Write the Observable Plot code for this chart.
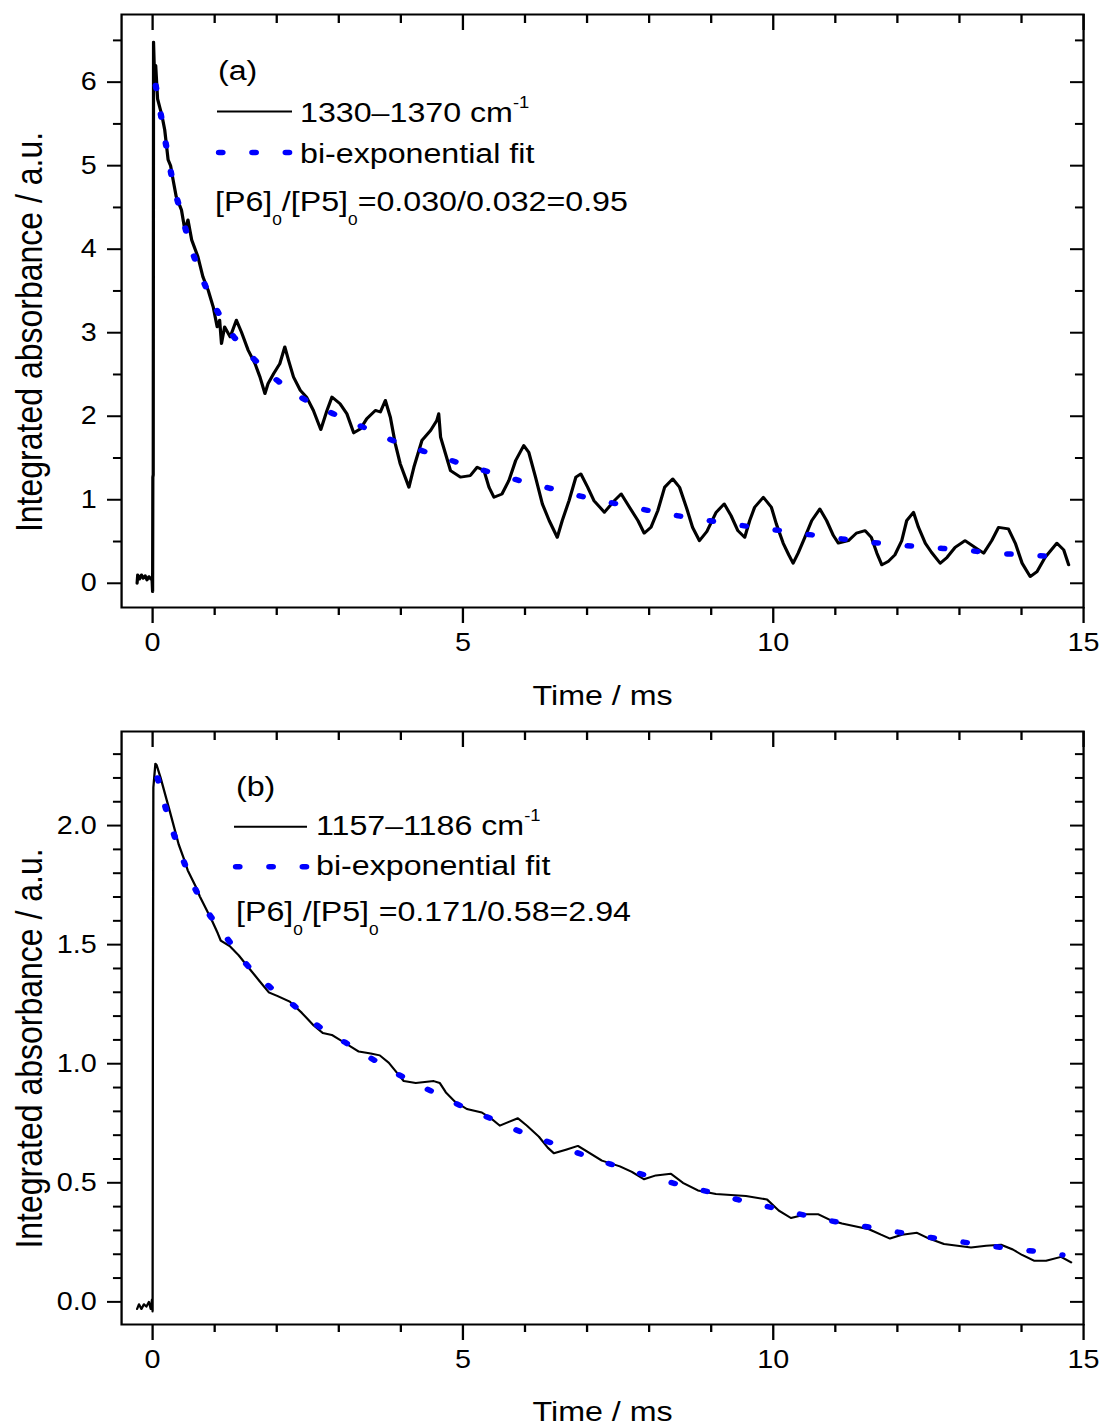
<!DOCTYPE html>
<html><head><meta charset="utf-8">
<script src="https://cdn.jsdelivr.net/npm/d3@7"></script>
<script src="https://cdn.jsdelivr.net/npm/@observablehq/plot@0.6"></script>
<style>
html,body{margin:0;padding:0;background:#fff;}
#chart{width:1102px;}
#chart svg{display:block;}
</style></head><body><div id="chart"></div>
<script>
// ---------- data ----------
const xMajorTicks = [0, 5, 10, 15];
const xMinorTicks = [1, 2, 3, 4, 6, 7, 8, 9, 11, 12, 13, 14];
const yMajorTicksA = [0, 1, 2, 3, 4, 5, 6];
const yMinorTicksA = [0.5, 1.5, 2.5, 3.5, 4.5, 5.5, 6.5];
const yMajorTicksB = [0, 0.5, 1, 1.5, 2];
const yMinorTicksB = [0.1,0.2,0.3,0.4,0.6,0.7,0.8,0.9,1.1,1.2,1.3,1.4,1.6,1.7,1.8,1.9,2.1,2.2,2.3];

// panel (a): 1330–1370 cm-1 trace [time ms, absorbance]
const traceA = [
  [-0.25,0.0],[-0.24,0.1],[-0.21,0.05],[-0.18,0.1],[-0.15,0.06],[-0.12,0.09],[-0.09,0.04],[-0.06,0.08],[-0.03,0.05],[-0.01,0.07],
  [0.0,-0.1],[0.004,1.27],[0.01,1.3],[0.015,6.48],[0.03,6.1],[0.05,6.2],[0.08,5.8],[0.115,5.7],[0.15,5.6],[0.195,5.43],
  [0.25,5.07],[0.29,5.0],[0.33,4.83],[0.38,4.63],[0.465,4.47],[0.52,4.23],[0.57,4.35],[0.63,4.11],[0.73,3.91],[0.81,3.67],
  [0.895,3.51],[0.976,3.31],[1.04,3.07],[1.08,3.15],[1.11,2.87],[1.16,3.07],[1.25,2.95],[1.35,3.15],[1.43,3.01],[1.54,2.79],
  [1.65,2.63],[1.73,2.47],[1.81,2.27],[1.86,2.39],[1.95,2.51],[2.05,2.63],[2.13,2.83],[2.19,2.67],[2.27,2.47],[2.38,2.31],
  [2.48,2.23],[2.59,2.07],[2.71,1.84],[2.81,2.07],[2.89,2.23],[3.02,2.15],[3.13,2.03],[3.24,1.80],[3.35,1.85],[3.45,1.97],
  [3.59,2.07],[3.67,2.05],[3.75,2.19],[3.83,1.99],[3.91,1.67],[3.99,1.43],[4.07,1.27],[4.13,1.15],[4.21,1.39],[4.34,1.71],
  [4.48,1.83],[4.58,1.95],[4.61,2.03],[4.64,1.75],[4.72,1.55],[4.80,1.35],[4.96,1.27],[5.12,1.29],[5.23,1.39],[5.34,1.35],
  [5.42,1.15],[5.50,1.03],[5.63,1.07],[5.74,1.23],[5.85,1.47],[5.98,1.65],[6.06,1.57],[6.17,1.27],[6.28,0.95],[6.39,0.75],
  [6.52,0.55],[6.60,0.75],[6.71,0.99],[6.82,1.27],[6.90,1.31],[7.01,1.15],[7.11,0.99],[7.28,0.85],[7.44,0.99],[7.55,1.07],
  [7.65,0.95],[7.82,0.75],[7.92,0.60],[8.03,0.67],[8.14,0.87],[8.25,1.15],[8.38,1.25],[8.49,1.15],[8.60,0.91],[8.70,0.67],
  [8.81,0.51],[8.93,0.62],[9.08,0.85],[9.21,0.95],[9.32,0.81],[9.43,0.63],[9.54,0.55],[9.62,0.75],[9.70,0.91],[9.84,1.03],
  [9.97,0.91],[10.05,0.71],[10.16,0.48],[10.25,0.34],[10.32,0.24],[10.40,0.36],[10.51,0.55],[10.62,0.75],[10.75,0.89],[10.86,0.75],
  [10.97,0.57],[11.05,0.48],[11.21,0.51],[11.34,0.60],[11.48,0.63],[11.58,0.55],[11.67,0.36],[11.75,0.22],[11.85,0.26],[11.96,0.34],
  [12.07,0.51],[12.15,0.75],[12.26,0.85],[12.34,0.67],[12.45,0.48],[12.55,0.37],[12.69,0.24],[12.80,0.31],[12.93,0.43],[13.09,0.51],
  [13.25,0.43],[13.39,0.36],[13.52,0.51],[13.63,0.67],[13.79,0.65],[13.90,0.48],[14.01,0.24],[14.14,0.08],[14.25,0.14],[14.38,0.31],
  [14.57,0.48],[14.68,0.40],[14.76,0.22]
];
// panel (a): bi-exponential fit
const fitA = [
  [0.05,5.96],[0.14,5.58],[0.23,5.19],[0.33,4.79],[0.465,4.42],[0.61,4.04],[0.79,3.67],[1.0,3.32],[1.27,2.99],[1.6,2.71],
  [1.99,2.44],[2.45,2.20],[2.91,2.03],[3.39,1.87],[3.87,1.71],[4.37,1.58],[4.90,1.45],[5.39,1.34],[5.91,1.23],[6.44,1.13],
  [6.97,1.03],[7.48,0.95],[8.0,0.87],[8.53,0.80],[9.06,0.74],[9.6,0.68],[10.13,0.63],[10.91,0.55],[11.45,0.50],[11.98,0.46],
  [12.5,0.43],[13.04,0.40],[13.57,0.36],[14.1,0.34],[14.64,0.31]
];

// panel (b): 1157–1186 cm-1 trace
const traceB = [
  [-0.25,-0.03],[-0.22,-0.01],[-0.18,-0.03],[-0.14,-0.01],[-0.1,-0.02],[-0.06,0.0],[-0.03,-0.03],[-0.01,0.01],[0.0,-0.04],[0.005,1.27],
  [0.012,2.16],[0.045,2.26],[0.063,2.255],[0.13,2.20],[0.227,2.107],[0.276,2.061],[0.372,1.968],[0.42,1.921],[0.517,1.851],[0.566,1.812],
  [0.711,1.735],[0.76,1.703],[0.953,1.603],[1.049,1.548],[1.098,1.517],[1.243,1.494],[1.388,1.455],[1.533,1.408],[1.726,1.346],[1.871,1.30],
  [2.016,1.284],[2.21,1.261],[2.403,1.214],[2.597,1.16],[2.742,1.129],[2.887,1.121],[3.08,1.09],[3.322,1.051],[3.515,1.043],[3.66,1.035],
  [3.805,1.004],[3.95,0.958],[4.047,0.927],[4.24,0.919],[4.53,0.927],[4.627,0.919],[4.724,0.880],[4.87,0.841],[5.063,0.810],[5.304,0.795],
  [5.45,0.771],[5.594,0.740],[5.74,0.756],[5.885,0.771],[6.03,0.740],[6.223,0.694],[6.368,0.647],[6.465,0.624],[6.659,0.639],[6.852,0.655],
  [6.997,0.632],[7.239,0.593],[7.529,0.569],[7.722,0.546],[7.916,0.515],[8.109,0.531],[8.351,0.538],[8.544,0.500],[8.786,0.468],[9.076,0.453],
  [9.56,0.445],[9.9,0.43],[10.09,0.383],[10.285,0.352],[10.53,0.368],[10.72,0.368],[10.914,0.344],[11.107,0.329],[11.542,0.305],[11.736,0.282],
  [11.881,0.266],[12.074,0.282],[12.316,0.290],[12.51,0.266],[12.751,0.243],[13.186,0.228],[13.43,0.236],[13.67,0.240],[13.86,0.22],[14.009,0.197],
  [14.2,0.173],[14.396,0.173],[14.637,0.189],[14.80,0.166]
];
const fitB = [
  [0.08,2.20],[0.26,2.03],[0.43,1.90],[0.62,1.773],[0.86,1.649],[1.15,1.545],[1.48,1.427],[1.82,1.338],[2.26,1.248],[2.66,1.160],
  [3.13,1.085],[3.59,1.012],[4.05,0.942],[4.53,0.880],[5.01,0.818],[5.50,0.764],[5.98,0.709],[6.47,0.663],[6.98,0.613],[7.48,0.570],
  [7.99,0.528],[8.53,0.489],[9.05,0.456],[9.54,0.422],[10.06,0.391],[10.91,0.341],[11.45,0.318],[12.0,0.293],[12.51,0.271],[13.06,0.251],
  [13.57,0.232],[14.13,0.215],[14.66,0.197]
];

// ---------- layout ----------
const S = 1.15;              // horizontal stretch of the original figure
const W = 1102 / S;
const FONT = "'Liberation Sans', Arial, Helvetica, sans-serif";
const mL = 121 / S, mR = 19 / S;

function panel(cfg) {
  const H = cfg.height, mT = cfg.marginTop, mB = cfg.marginBottom;
  const innerW = W - mL - mR, innerH = H - mT - mB;
  const svgEl = Plot.plot({
    width: W, height: H,
    marginLeft: mL, marginRight: mR, marginTop: mT, marginBottom: mB,
    style: {fontFamily: FONT, fontSize: "25px", color: "black", background: "white"},
    x: {domain: [-0.5, 15]},
    y: {domain: cfg.yDomain},
    marks: [
      Plot.axisX({ticks: xMajorTicks, tickSize: 16, tickPadding: 10, fontSize: 25, strokeWidth: 2, label: null, tickFormat: d3.format("d")}),
      Plot.axisX({ticks: xMinorTicks, tickSize: 8, strokeWidth: 2, label: null, tickFormat: () => ""}),
      Plot.axisY({ticks: cfg.yMajor, tickSize: 12.2, tickPadding: 9.5, fontSize: 25, strokeWidth: 2, label: null, tickFormat: cfg.yFormat}),
      Plot.axisY({ticks: cfg.yMinor, tickSize: 7, strokeWidth: 2, label: null, tickFormat: () => ""}),
      Plot.tickX(xMajorTicks, {x: d => d, insetBottom: innerH - 16, stroke: "black", strokeWidth: 2}),
      Plot.tickX(xMinorTicks, {x: d => d, insetBottom: innerH - 9, stroke: "black", strokeWidth: 2}),
      Plot.tickY(cfg.yMajor, {y: d => d, insetLeft: innerW - 11.3, stroke: "black", strokeWidth: 2}),
      Plot.tickY(cfg.yMinor, {y: d => d, insetLeft: innerW - 7, stroke: "black", strokeWidth: 2}),
      Plot.frame({stroke: "black", strokeWidth: 2}),
      Plot.line(cfg.trace, {x: d => d[0], y: d => d[1], stroke: "black", strokeWidth: cfg.lineWidth}),
      Plot.line(cfg.fit, {x: d => d[0], y: d => d[1], stroke: "#0000ff", strokeWidth: 5.5, strokeDasharray: "3 26", strokeLinecap: "round", curve: "monotone-x"}),
      Plot.text(["Time / ms"], {text: d => d, frameAnchor: "bottom", textAnchor: "middle", lineAnchor: "bottom", dy: cfg.xLabelOffset, fontSize: 28}),
      Plot.text(["Integrated absorbance / a.u."], {text: d => d, frameAnchor: "left", textAnchor: "middle", rotate: -90, lineAnchor: "top", dx: -92, dy: cfg.yLabelShift, fontSize: 32})
    ]
  });
  svgEl.setAttribute("preserveAspectRatio", "none");
  svgEl.setAttribute("width", 1102);
  svgEl.style.width = "1102px";
  svgEl.style.height = H + "px";
  svgEl.style.maxWidth = "none";

  // legend (drawn in the plot's own coordinate system)
  const L = cfg.legend;
  const g = d3.select(svgEl).append("g").attr("font-family", FONT).attr("font-size", 28)
    .attr("fill", "black").attr("text-anchor", "start");
  g.append("text").attr("x", L.tagX).attr("y", L.tagY).text(cfg.tag);
  g.append("line").attr("x1", L.lineX1).attr("x2", L.lineX2).attr("y1", L.line1Y).attr("y2", L.line1Y)
    .attr("stroke", "black").attr("stroke-width", 2);
  const t1 = g.append("text").attr("x", L.textX).attr("y", L.text1Y);
  t1.append("tspan").text(cfg.band + " cm");
  t1.append("tspan").attr("font-size", 16).attr("dy", -14).text("-1");
  g.append("line").attr("x1", L.dotX1).attr("x2", L.lineX2).attr("y1", L.line2Y).attr("y2", L.line2Y)
    .attr("stroke", "#0000ff").attr("stroke-width", 5.5).attr("stroke-dasharray", "3 26").attr("stroke-linecap", "round");
  g.append("text").attr("x", L.textX).attr("y", L.text2Y).text("bi-exponential fit");
  const t3 = g.append("text").attr("x", L.ratioX).attr("y", L.text3Y);
  t3.append("tspan").text("[P6]");
  t3.append("tspan").attr("font-size", 15).attr("dy", 14).text("0");
  t3.append("tspan").attr("dy", -14).text("/[P5]");
  t3.append("tspan").attr("font-size", 15).attr("dy", 14).text("0");
  t3.append("tspan").attr("dy", -14).text(cfg.ratio);
  return svgEl;
}

const chart = document.getElementById("chart");
chart.appendChild(panel({
  height: 715, marginTop: 14, marginBottom: 108,
  yDomain: [-0.29, 6.81], yMajor: yMajorTicksA, yMinor: yMinorTicksA, yFormat: d3.format("d"),
  trace: traceA, fit: fitA, lineWidth: 2.8, xLabelOffset: 97, yLabelShift: 21,
  tag: "(a)", band: "1330\u20131370", ratio: "=0.030/0.032=0.95",
  legend: {tagX: 218/S, tagY: 80, lineX1: 217/S, lineX2: 292/S, dotX1: 219/S, line1Y: 111.5, line2Y: 152.5,
           textX: 300/S, text1Y: 122, text2Y: 163, ratioX: 215/S, text3Y: 211}
}));
chart.appendChild(panel({
  height: 712, marginTop: 16, marginBottom: 103,
  yDomain: [-0.095, 2.395], yMajor: yMajorTicksB, yMinor: yMinorTicksB, yFormat: d3.format(".1f"),
  trace: traceB, fit: fitB, lineWidth: 2, xLabelOffset: 96, yLabelShift: 20.5,
  tag: "(b)", band: "1157\u20131186", ratio: "=0.171/0.58=2.94",
  legend: {tagX: 236/S, tagY: 81, lineX1: 234/S, lineX2: 307/S, dotX1: 236/S, line1Y: 111.7, line2Y: 151.7,
           textX: 316/S, text1Y: 120, text2Y: 160, ratioX: 236/S, text3Y: 206}
}));
</script></body></html>
